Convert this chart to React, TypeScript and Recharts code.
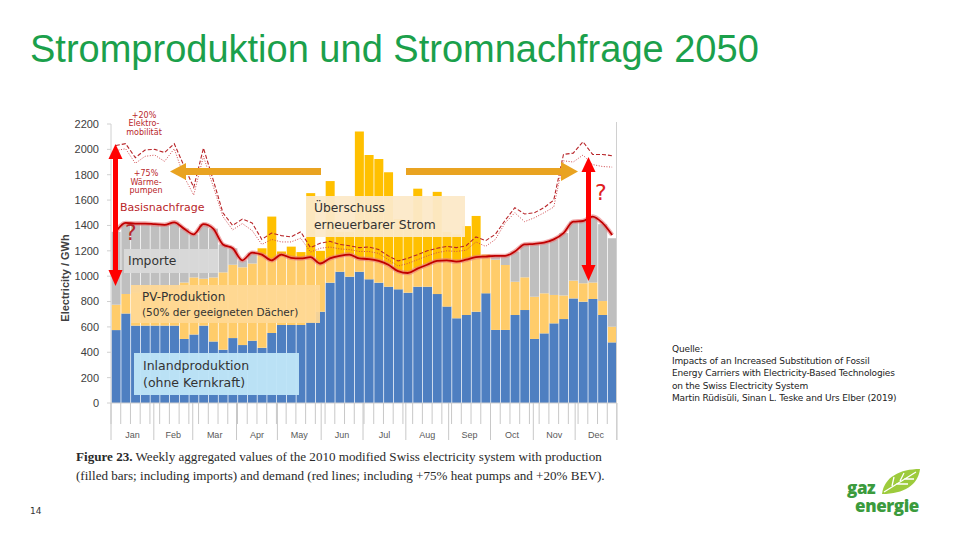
import React from 'react';
import { ComposedChart, Bar, Line, XAxis, YAxis } from 'recharts';

// weekly values, GWh
const inland = [
  575, 705, 610, 610, 610, 610, 610, 505, 540, 610, 485, 420, 512, 457, 491, 435,
  552, 615, 615, 615, 641, 720, 949, 1035, 996, 1035, 975, 949, 917, 896, 870, 917,
  917, 859, 760, 668, 694, 720, 865, 576, 576, 694, 733, 505, 549, 628, 662, 825,
  799, 820, 694, 478,
];
const pv = [
  200, 155, 260, 270, 270, 280, 290, 445, 450, 370, 505, 610, 578, 613, 609, 785,
  918, 580, 618, 575, 1014, 480, 801, 315, 354, 1105, 980, 976, 903, 554, 530, 773,
  483, 806, 590, 662, 701, 755, 305, 554, 512, 263, 258, 333, 316, 224, 186, 140,
  145, 130, 110, 124,
];
const imports = [
  575, 560, 545, 535, 530, 515, 525, 425, 340, 430, 385, 220, 130, 55, 85, 0,
  0, 0, 0, 0, 0, 0, 0, 0, 0, 0, 0, 0, 0, 0, 0, 0,
  0, 0, 0, 0, 0, 0, 0, 30, 72, 238, 259, 417, 400, 438, 492, 465,
  496, 515, 606, 698,
];
const baseDemand = [
  1350, 1420, 1415, 1415, 1410, 1405, 1425, 1375, 1330, 1410, 1375, 1250, 1220, 1125, 1185, 1170,
  1125, 1170, 1145, 1140, 1150, 1100, 1140, 1160, 1170, 1140, 1135, 1120, 1090, 1040, 1025, 1060,
  1090, 1120, 1125, 1115, 1130, 1150, 1155, 1160, 1160, 1195, 1250, 1255, 1265, 1290, 1340, 1430,
  1435, 1470, 1420, 1325,
];
const heatPumpDemand = [
  1990, 2005, 1890, 1945, 1955, 1905, 2005, 1785, 1640, 1945, 1710, 1470, 1365, 1415, 1360, 1250,
  1290, 1270, 1270, 1300, 1190, 1220, 1230, 1215, 1210, 1195, 1195, 1180, 1130, 1080, 1100, 1130,
  1160, 1185, 1200, 1195, 1205, 1270, 1235, 1290, 1420, 1500, 1430, 1460, 1500, 1545, 1910, 1900,
  1955, 1880, 1865, 1860,
];
const evDemand = [
  2030, 2045, 1935, 1995, 2000, 1975, 2045, 1870, 1700, 2010, 1760, 1500, 1400, 1450, 1420, 1290,
  1340, 1320, 1310, 1350, 1225, 1260, 1275, 1250, 1240, 1225, 1230, 1210, 1160, 1120, 1140, 1170,
  1200, 1220, 1235, 1225, 1240, 1310, 1280, 1330, 1440, 1540, 1490, 1500, 1540, 1600, 1960, 1970,
  2060, 1960, 1960, 1950,
];
const yTicks = [0, 200, 400, 600, 800, 1000, 1200, 1400, 1600, 1800, 2000, 2200];
const months = ['Jan', 'Feb', 'Mar', 'Apr', 'May', 'Jun', 'Jul', 'Aug', 'Sep', 'Oct', 'Nov', 'Dec'];
const monthBounds = [0, 4.4, 8.4, 12.9, 17.1, 21.6, 25.9, 30.3, 34.7, 39, 43.4, 47.7, 52];

const data = inland.map((v, i) => {
  const room = Math.max(0, baseDemand[i] - v);
  const pvLow = Math.min(pv[i], room);
  return {
    week: i + 1,
    inland: v,
    pvLow,
    pvHigh: pv[i] - pvLow,
    imports: imports[i],
    base: baseDemand[i],
    hp: heatPumpDemand[i],
    ev: evDemand[i],
  };
});

const CHART_W = 630;
const CHART_H = 333;
const Y_AXIS_W = 111;
const RIGHT = 13;
const PLOT_W = CHART_W - Y_AXIS_W - RIGHT;

const BLUE = '#4E7FC1';
const PV_LIGHT = '#FFCC6A';
const PV_SURPLUS = '#FFC000';
const GRAY = '#BFBFBF';
const DARK_RED = '#B8262A';
const ORANGE = '#E9A321';
const ANNO_FONT = '"DejaVu Sans", sans-serif';

const WeekTick = (props: any) => {
  const { x, y, index } = props;
  const bw = PLOT_W / inland.length;
  const left = x - bw / 2;
  return (
    <g>
      <line x1={left} x2={left} y1={y} y2={y + 21} stroke="#C8C8C8" strokeWidth={1} />
      {index === inland.length - 1 && (
        <line x1={left + bw} x2={left + bw} y1={y} y2={y + 37} stroke="#C8C8C8" strokeWidth={1} />
      )}
      {index === 0 &&
        months.map((m, k) => {
          const x0 = left + monthBounds[k] * bw;
          const x1 = left + monthBounds[k + 1] * bw;
          return (
            <g key={m}>
              <line x1={x0} x2={x0} y1={y} y2={y + 37} stroke="#C8C8C8" strokeWidth={1} />
              <text x={(x0 + x1) / 2} y={y + 35} textAnchor="middle" fontSize={9} fill="#595959" fontFamily="'Liberation Sans', Arial">
                {m}
              </text>
            </g>
          );
        })}
    </g>
  );
};

const abs = (left: number, top: number, extra: React.CSSProperties = {}): React.CSSProperties => ({
  position: 'absolute',
  left,
  top,
  ...extra,
});

export default function App() {
  return (
    <div style={{ position: 'absolute', left: 0, top: 0, width: 960, height: 540, background: '#fff', overflow: 'hidden' }}>
      <div style={abs(30, 30, { fontFamily: '"Liberation Sans", Arial, sans-serif', fontSize: 38, lineHeight: '38px', color: '#1BA04B', whiteSpace: 'nowrap' })}>
        Stromproduktion und Stromnachfrage 2050
      </div>

      {/* figure */}
      <div style={abs(0, 110)}>
        <ComposedChart width={CHART_W} height={CHART_H} data={data} margin={{ top: 14, right: RIGHT, bottom: 0, left: 0 }} barCategoryGap={0.6}>
          <XAxis
            dataKey="week"
            height={40}
            interval={0}
            tickLine={false}
            tickSize={0}
            tickMargin={0}
            axisLine={{ stroke: '#D0D0D0' }}
            tick={(p: any) => <WeekTick {...p} />}
          />
          <YAxis
            width={Y_AXIS_W}
            domain={[0, 2200]}
            ticks={yTicks}
            interval={0}
            tickSize={4}
            tickMargin={8}
            axisLine={{ stroke: '#D0D0D0' }}
            tickLine={{ stroke: '#D0D0D0' }}
            tick={{ fontSize: 11, fill: '#404040', fontFamily: "'Liberation Sans', Arial" }}
          />
          <Bar dataKey="inland" stackId="s" fill={BLUE} isAnimationActive={false} />
          <Bar dataKey="pvLow" stackId="s" fill={PV_LIGHT} isAnimationActive={false} />
          <Bar dataKey="pvHigh" stackId="s" fill={PV_SURPLUS} isAnimationActive={false} />
          <Bar dataKey="imports" stackId="s" fill={GRAY} isAnimationActive={false} />
          <Line dataKey="ev" type="linear" stroke="#B8262A" strokeWidth={1.1} strokeDasharray="4 2" dot={false} isAnimationActive={false} />
          <Line dataKey="hp" type="linear" stroke="#D0484C" strokeWidth={1} strokeDasharray="1 1.6" dot={false} isAnimationActive={false} />
          <Line dataKey="base" type="monotone" stroke="#E8787A" strokeOpacity={0.6} strokeWidth={4.5} dot={false} isAnimationActive={false} />
          <Line dataKey="base" type="monotone" stroke="#C00000" strokeWidth={1.8} dot={false} isAnimationActive={false} />
        </ComposedChart>
      </div>
      <div style={abs(616, 122, { width: 1, height: 318, background: '#D0D0D0' })} />
      <div
        style={abs(65, 278, {
          transform: 'translate(-50%, -50%) rotate(-90deg)',
          fontFamily: '"Liberation Sans", Arial, sans-serif',
          fontWeight: 700,
          fontSize: 11,
          color: '#404040',
          whiteSpace: 'nowrap',
        })}
      >
        Electricity / GWh
      </div>

      {/* boxes */}
      <div style={abs(306, 196, { width: 159, height: 41, background: 'rgba(252,233,200,0.95)', fontFamily: ANNO_FONT, fontSize: 12.3, lineHeight: '17px', color: '#333', padding: '4px 0 0 8px', boxSizing: 'border-box' })}>
        Überschuss
        <br />
        erneuerbarer Strom
      </div>
      <div style={abs(124, 249, { width: 94, height: 24, background: 'rgba(217,217,217,0.95)', fontFamily: ANNO_FONT, fontSize: 12.3, lineHeight: '24px', color: '#333', paddingLeft: 4, boxSizing: 'border-box' })}>
        Importe
      </div>
      <div style={abs(131, 285, { width: 189, height: 38, background: 'rgba(255,216,150,0.93)', fontFamily: ANNO_FONT, color: '#333', padding: '5px 0 0 11px', boxSizing: 'border-box' })}>
        <div style={{ fontSize: 12, lineHeight: '15px' }}>PV-Produktion</div>
        <div style={{ fontSize: 10.5, lineHeight: '15px' }}>(50% der geeigneten Dächer)</div>
      </div>
      <div style={abs(134, 353, { width: 165, height: 42, background: 'rgba(190,228,247,0.97)', fontFamily: ANNO_FONT, fontSize: 12.5, lineHeight: '17px', color: '#333', padding: '4px 0 0 9px', boxSizing: 'border-box' })}>
        Inlandproduktion
        <br />
        (ohne Kernkraft)
      </div>

      {/* red labels */}
      <div style={abs(118, 112, { width: 52, textAlign: 'center', fontFamily: ANNO_FONT, fontSize: 8, lineHeight: '8.4px', color: DARK_RED })}>
        +20%
        <br />
        Elektro-
        <br />
        mobilität
      </div>
      <div style={abs(120, 170, { width: 52, textAlign: 'center', fontFamily: ANNO_FONT, fontSize: 8, lineHeight: '8.6px', color: DARK_RED })}>
        +75%
        <br />
        Wärme-
        <br />
        pumpen
      </div>
      <div style={abs(120, 201, { fontFamily: ANNO_FONT, fontSize: 11, lineHeight: '14px', color: DARK_RED })}>Basisnachfrage</div>

      {/* arrows */}
      <svg width={960} height={540} style={abs(0, 0, { pointerEvents: 'none' })}>
        <rect x={113} y={157} width={5} height={113} fill="#FF0000" />
        <polygon points="115.5,144 108.5,159 122.5,159" fill="#FF0000" />
        <polygon points="115.5,286 108.5,270 122.5,270" fill="#FF0000" />
        <rect x={586} y={170} width={5} height={97} fill="#FF0000" />
        <polygon points="588.5,157 581.5,172 595.5,172" fill="#FF0000" />
        <polygon points="588.5,281 581.5,265 595.5,265" fill="#FF0000" />
        <rect x={185} y={168} width={136} height={7} fill={ORANGE} />
        <polygon points="170,171.5 186,163 186,180" fill={ORANGE} />
        <rect x={406} y={168} width={156} height={7} fill={ORANGE} />
        <polygon points="578,171.5 561,162 561,181" fill={ORANGE} />
        <text x={125} y={240} fontSize={22} fill={DARK_RED} fontFamily={ANNO_FONT}>?</text>
        <text x={595} y={200} fontSize={22} fill="#E0201E" fontFamily={ANNO_FONT}>?</text>
      </svg>

      {/* caption */}
      <div style={abs(76, 448, { fontFamily: '"Liberation Serif", "DejaVu Serif", serif', fontSize: 13.1, lineHeight: '18.5px', color: '#2a2a2a', whiteSpace: 'nowrap' })}>
        <b>Figure 23.</b> Weekly aggregated values of the 2010 modified Swiss electricity system with production
        <br />
        (filled bars; including imports) and demand (red lines; including +75% heat pumps and +20% BEV).
      </div>

      {/* source */}
      <div style={abs(672, 343, { fontFamily: ANNO_FONT, fontSize: 9, lineHeight: '12.2px', color: '#222', whiteSpace: 'nowrap', letterSpacing: -0.15 })}>
        Quelle:
        <br />
        Impacts of an Increased Substitution of Fossil
        <br />
        Energy Carriers with Electricity-Based Technologies
        <br />
        on the Swiss Electricity System
        <br />
        Martin Rüdisüli, Sinan L. Teske and Urs Elber (2019)
      </div>

      <div style={abs(30, 506, { fontFamily: ANNO_FONT, fontSize: 9, color: '#333' })}>14</div>

      {/* logo */}
      <svg width={60} height={40} style={abs(876, 466)}>
        <path d="M6 28 C8 11 24 3 44 3 C42 19 28 28 6 28 Z" fill="#9DCB3C" />
        <path d="M8 26 L40 6 M16 20 L18 11 M24 15 L28 7 M20 18 L32 18 M28 13 L38 13" stroke="#fff" strokeWidth={1.3} fill="none" />
      </svg>
      <div style={abs(847, 479, { fontFamily: '"Open Sans", sans-serif', fontWeight: 800, fontSize: 17, lineHeight: '18px', color: '#3B9B3D', letterSpacing: -0.4, whiteSpace: 'pre' })}>
        {'gaz\n  energie'}
      </div>
    </div>
  );
}
